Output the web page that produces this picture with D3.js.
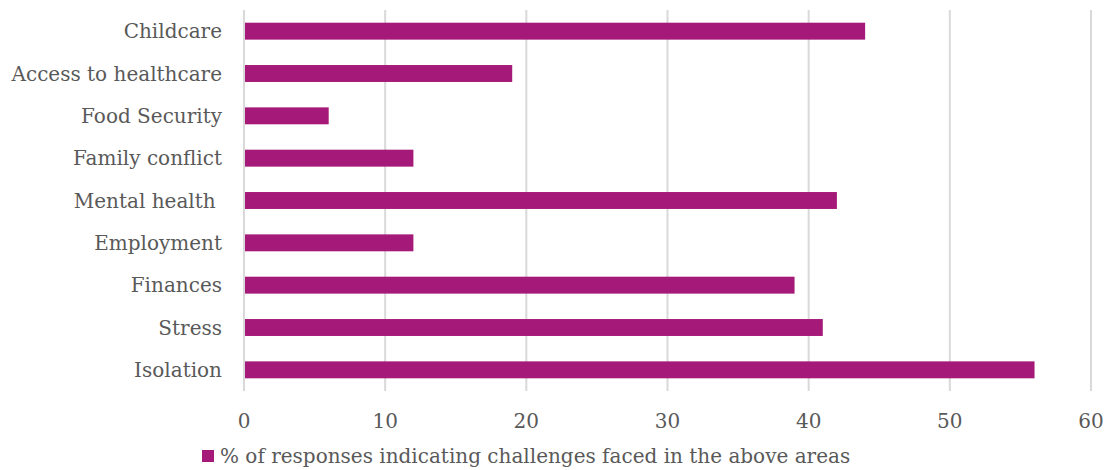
<!DOCTYPE html>
<html>
<head>
<meta charset="utf-8">
<script src="https://cdn.jsdelivr.net/npm/d3@7"></script>
<style>
  body { margin: 0; background: #fff; }
  text { font-family: Georgia, "DejaVu Serif", "Liberation Serif", serif; fill: #595959; }
</style>
</head>
<body>
<script>
// categories top to bottom
var categories = ["Childcare", "Access to healthcare", "Food Security", "Family conflict",
  "Mental health ", "Employment", "Finances", "Stress", "Isolation"];
var values = [44, 19, 6, 12, 42, 12, 39, 41, 56];
var xTicks = [0, 10, 20, 30, 40, 50, 60];
var seriesName = "% of responses indicating challenges faced in the above areas";

var svgWidth = 1110;
var svgHeight = 470;

var chartMargin = { top: 10, right: 19, bottom: 79, left: 244 };
var chartWidth = svgWidth - chartMargin.left - chartMargin.right;
var chartHeight = svgHeight - chartMargin.top - chartMargin.bottom;

var svg = d3.select("body")
  .append("svg")
  .attr("width", svgWidth)
  .attr("height", svgHeight);

var chartGroup = svg.append("g")
  .attr("transform", `translate(${chartMargin.left}, ${chartMargin.top})`);

var xScale = d3.scaleLinear()
  .domain([0, 60])
  .range([0, 847]);

var yScale = d3.scaleBand()
  .domain(categories)
  .range([0, chartHeight])
  .paddingInner(0.6)
  .paddingOuter(0.3);

// gridlines
chartGroup.selectAll(".grid")
  .data(xTicks)
  .enter()
  .append("line")
  .attr("class", "grid")
  .attr("x1", d => xScale(d))
  .attr("x2", d => xScale(d))
  .attr("y1", 0)
  .attr("y2", chartHeight)
  .attr("stroke", "#d9d9d9")
  .attr("stroke-width", 2);

// bars
chartGroup.selectAll(".bar")
  .data(values)
  .enter()
  .append("rect")
  .attr("class", "bar")
  .attr("x", xScale(0) + 1)
  .attr("y", (d, i) => yScale(categories[i]))
  .attr("width", d => xScale(d) - xScale(0) - 1)
  .attr("height", yScale.bandwidth())
  .attr("fill", "#a51a78");

// category labels
chartGroup.selectAll(".catLabel")
  .data(categories)
  .enter()
  .append("text")
  .attr("class", "catLabel")
  .attr("x", -22)
  .attr("y", d => yScale(d) + yScale.bandwidth() / 2)
  .attr("dy", "0.35em")
  .attr("text-anchor", "end")
  .attr("font-size", "20px")
  .style("white-space", "pre")
  .text(d => d);

// x tick labels
chartGroup.selectAll(".xLabel")
  .data(xTicks)
  .enter()
  .append("text")
  .attr("class", "xLabel")
  .attr("x", d => xScale(d))
  .attr("y", chartHeight + 30)
  .attr("dy", "0.35em")
  .attr("text-anchor", "middle")
  .attr("font-size", "20px")
  .text(d => d);

// legend
var legend = svg.append("g")
  .attr("transform", "translate(202, 456)");

legend.append("rect")
  .attr("x", 0)
  .attr("y", -6)
  .attr("width", 12)
  .attr("height", 12)
  .attr("fill", "#a51a78");

legend.append("text")
  .attr("x", 18)
  .attr("y", 0)
  .attr("dy", "0.35em")
  .attr("font-size", "20px")
  .text(seriesName);
</script>
</body>
</html>
